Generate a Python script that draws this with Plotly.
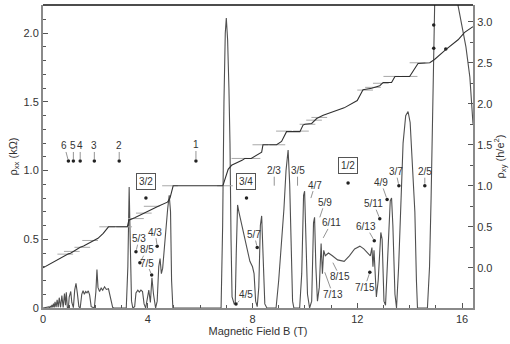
import plotly.graph_objects as go

# ---------------- data ----------------
# longitudinal resistivity rho_xx (kOhm) vs magnetic field B (T)
B_xx = [0.00, 0.15, 0.22, 0.25, 0.28, 0.31, 0.34, 0.37, 0.40, 0.43,
        0.46, 0.50, 0.54, 0.58, 0.62, 0.67, 0.72, 0.77, 0.82, 0.86,
        0.89, 0.93, 0.97, 1.00, 1.06, 1.10, 1.16, 1.21, 1.26, 1.31,
        1.37, 1.42, 1.48, 1.53, 1.58, 1.63, 1.68, 1.73, 1.78, 1.84,
        1.96, 2.02, 2.06, 2.10, 2.16, 2.22, 2.28, 2.35, 2.42, 2.50,
        2.58, 2.66, 2.70, 3.18, 3.24, 3.29, 3.33, 3.38, 3.43, 3.50,
        3.55, 3.62, 3.68, 3.74, 3.80, 3.86, 3.92, 3.98, 4.04, 4.10,
        4.16, 4.22, 4.30, 4.36, 4.42, 4.47, 4.52, 4.57, 4.63, 4.70,
        4.76, 4.82, 4.87, 4.91, 4.96, 6.80, 6.86, 6.91, 6.96, 7.00,
        7.05, 7.10, 7.14, 7.18, 7.22, 7.30, 7.34, 7.38, 7.43, 7.48,
        7.55, 7.62, 7.70, 7.80, 7.90, 8.00, 8.06, 8.12, 8.18, 8.24,
        8.30, 8.35, 8.40, 8.47, 8.55, 8.90, 9.00, 9.10, 9.20, 9.28,
        9.36, 9.42, 9.48, 9.53, 9.58, 9.80, 9.88, 9.95, 9.99, 10.04,
        10.10, 10.18, 10.26, 10.33, 10.37, 10.42, 10.48, 10.55, 10.62, 10.67,
        10.72, 10.78, 10.90, 11.05, 11.25, 11.50, 11.70, 11.90, 12.10, 12.25,
        12.40, 12.50, 12.56, 12.60, 12.64, 12.68, 12.73, 12.80, 12.90, 12.95,
        13.02, 13.08, 13.16, 13.26, 13.31, 13.36, 13.44, 13.50, 13.58, 13.66,
        13.75, 13.85, 13.94, 14.02, 14.10, 14.20, 14.26, 14.30, 14.68, 14.76,
        14.82, 14.87, 14.92, 14.96, 15.40, 15.85, 16.15, 16.30, 16.42]
rho_xx = [0.000, 0.002, 0.008, 0.002, 0.014, 0.003, 0.022, 0.004, 0.032, 0.005,
          0.045, 0.006, 0.060, 0.006, 0.075, 0.005, 0.090, 0.004, 0.105, 0.020,
          0.115, 0.004, 0.000, 0.080, 0.120, 0.040, 0.003, 0.130, 0.180, 0.110,
          0.010, 0.000, 0.100, 0.125, 0.100, 0.120, 0.110, 0.125, 0.095, 0.010,
          0.000, 0.120, 0.280, 0.150, 0.120, 0.145, 0.130, 0.155, 0.135, 0.140,
          0.080, 0.005, 0.000, 0.000, 0.300, 0.880, 0.500, 0.050, 0.000, 0.010,
          0.110, 0.130, 0.115, 0.130, 0.120, 0.030, 0.000, 0.080, 0.130, 0.040,
          0.220, 0.100, 0.000, 0.050, 0.300, 0.360, 0.250, 0.290, 0.450, 0.600,
          0.720, 0.820, 0.700, 0.200, 0.000, 0.000, 0.600, 1.500, 2.000, 2.110,
          1.950, 1.600, 1.200, 0.500, 0.080, 0.030, 0.030, 0.400, 0.750, 0.700,
          0.640, 0.580, 0.500, 0.420, 0.340, 0.300, 0.250, 0.050, 0.010, 0.150,
          0.600, 0.670, 0.350, 0.030, 0.000, 0.000, 0.200, 0.450, 0.720, 1.000,
          1.150, 0.900, 0.400, 0.050, 0.000, 0.000, 0.250, 0.820, 0.850, 0.500,
          0.100, 0.000, 0.050, 0.620, 0.660, 0.300, 0.050, 0.150, 0.470, 0.250,
          0.420, 0.380, 0.400, 0.380, 0.350, 0.340, 0.380, 0.430, 0.450, 0.430,
          0.400, 0.380, 0.440, 0.300, 0.420, 0.250, 0.080, 0.200, 0.550, 0.500,
          0.050, 0.020, 0.400, 0.780, 0.800, 0.600, 0.100, 0.000, 0.300, 0.800,
          1.200, 1.400, 1.430, 1.350, 1.050, 0.700, 0.200, 0.000, 0.000, 0.300,
          0.800, 1.300, 1.900, 2.250, 3.500, 2.200, 1.900, 1.680, 1.340]

# Hall resistivity rho_xy (h/e^2) vs B (T)
B_xy = [0.00, 0.50, 0.97, 1.05, 1.16, 1.25, 1.42, 1.55, 1.75, 1.96,
        2.10, 2.30, 2.50, 3.22, 3.28, 3.50, 3.80, 4.10, 4.40, 4.75,
        4.85, 4.97, 6.87, 7.07, 7.20, 7.60, 7.70, 7.95, 8.10, 8.35,
        8.40, 8.92, 9.11, 9.30, 9.81, 9.93, 10.00, 10.26, 10.45, 10.70,
        11.50, 12.00, 12.22, 12.55, 12.86, 12.99, 13.31, 13.44, 14.00, 14.32,
        14.77, 14.95, 15.38, 15.85, 16.10, 16.42]
rho_xy = [0.000, 0.090, 0.170, 0.178, 0.200, 0.215, 0.250, 0.265, 0.300, 0.333,
          0.360, 0.420, 0.500, 0.500, 0.580, 0.610, 0.660, 0.700, 0.750, 0.800,
          0.850, 1.000, 1.000, 1.200, 1.250, 1.310, 1.333, 1.333, 1.360, 1.410,
          1.500, 1.500, 1.540, 1.660, 1.660, 1.740, 1.750, 1.760, 1.820, 1.860,
          1.950, 2.040, 2.170, 2.190, 2.220, 2.260, 2.260, 2.333, 2.333, 2.490,
          2.500, 2.540, 2.660, 2.780, 2.870, 2.940]

# reference plateau values (h/e^2) and the field where each short marker sits
plateau_values = [1/6, 1/5, 1/4, 1/3, 1/2, 1/2, 3/5, 2/3, 3/4, 1, 1,
                  4/3, 4/3, 3/2, 3/2, 5/3, 5/3, 7/4, 9/5, 11/6,
                  13/6, 11/5, 9/4, 7/3, 7/3, 5/2]
plateau_B = [0.85, 1.10, 1.50, 1.80, 2.45, 3.10, 3.55, 3.85, 4.15, 4.85, 6.95,
             7.50, 8.00, 8.30, 8.95, 9.20, 9.85, 10.10, 10.35, 10.55,
             12.30, 12.60, 12.90, 13.30, 14.00, 14.30]

# filling-factor labels with a marked point (B, rho_xx)
dot_labels = ["6", "5", "4", "3", "2", "1", "5/3", "4/3", "8/5", "7/5",
              "5/7", "4/5", "4/9", "3/7", "2/5", "5/11", "6/13", "7/15"]
dot_B = [0.97, 1.16, 1.42, 1.96, 2.91, 5.84, 3.55, 4.36, 3.70, 4.15,
         8.18, 7.37, 13.14, 13.59, 14.58, 12.86, 12.65, 12.48]
dot_rho = [1.07, 1.07, 1.07, 1.07, 1.07, 1.07, 0.41, 0.45, 0.33, 0.24,
           0.44, 0.03, 0.79, 0.89, 0.89, 0.65, 0.49, 0.26]

# labels with only a short pointer line (B, rho_xx of pointer end)
tick_labels = ["2/3", "3/5", "4/7", "5/9", "6/11", "8/15", "7/13"]
tick_B = [8.83, 9.72, 10.23, 10.57, 10.70, 11.07, 10.76]
tick_rho = [0.89, 0.89, 0.80, 0.66, 0.51, 0.33, 0.26]

# boxed labels (even-denominator / half filling) with a dot below
box_labels = ["3/2", "3/4", "1/2"]
box_B = [3.93, 7.77, 11.65]
box_rho = [0.80, 0.80, 0.91]

# extra marked points on the high-field traces (B, rho_xx axis units)
extra_B = [14.92, 14.92, 15.38]
extra_rho = [2.06, 1.89, 1.885]

# ---------------- figure ----------------
TXT = "#333333"
FONT = "Liberation Sans, Arial, sans-serif"

fig = go.Figure()

fig.add_trace(go.Scatter(x=B_xx, y=rho_xx, mode="lines", yaxis="y",
                         line=dict(color="#505050", width=1.1), hoverinfo="skip",
                         showlegend=False))

# plateau markers
HW = 0.3
px, py = [], []
for v, b in zip(plateau_values, plateau_B):
    px += [b - HW, b + HW, None]
    py += [v, v, None]
fig.add_trace(go.Scatter(x=px, y=py, mode="lines", yaxis="y2",
                         line=dict(color="#a8a8a8", width=1), hoverinfo="skip",
                         showlegend=False))

fig.add_trace(go.Scatter(x=B_xy, y=rho_xy, mode="lines", yaxis="y2",
                         line=dict(color="#303030", width=1.1), hoverinfo="skip",
                         showlegend=False))

fig.add_trace(go.Scatter(x=dot_B + box_B + extra_B, y=dot_rho + box_rho + extra_rho,
                         mode="markers", yaxis="y",
                         marker=dict(color="#222222", size=3.5), hoverinfo="skip",
                         showlegend=False))

annotations = []
dot_offsets = [(-4, -15), (0, -15), (0, -15), (0, -15), (0, -15), (0, -16),
               (3, -13), (-2, -14), (7, -13), (-5, -12), (-3, -13), (10, -9),
               (-6, -17), (-3, -14), (0, -14), (-6, -15), (-8, -14), (-5, 15)]
for t, b, r, (dx, dy) in zip(dot_labels, dot_B, dot_rho, dot_offsets):
    annotations.append(dict(x=b, y=r, xref="x", yref="y", text=t,
                            showarrow=True, arrowhead=0, arrowwidth=0.7,
                            arrowcolor="#666666", ax=dx, ay=dy, standoff=2,
                            font=dict(size=10, color=TXT, family=FONT),
                            borderpad=0))
tick_offsets = [(0, -15), (0, -15), (4, -13), (5, -15), (8, -15), (7, 14), (8, 22)]
for t, b, r, (dx, dy) in zip(tick_labels, tick_B, tick_rho, tick_offsets):
    annotations.append(dict(x=b, y=r, xref="x", yref="y", text=t,
                            showarrow=True, arrowhead=0, arrowwidth=0.7,
                            arrowcolor="#666666", ax=dx, ay=dy, standoff=0,
                            font=dict(size=10, color=TXT, family=FONT),
                            borderpad=0))
for t, b, r in zip(box_labels, box_B, box_rho):
    annotations.append(dict(x=b, y=r, xref="x", yref="y", text=t,
                            showarrow=False, yshift=17,
                            bordercolor="#555555", borderwidth=1, borderpad=2,
                            bgcolor="white",
                            font=dict(size=10, color=TXT, family=FONT)))

fig.update_layout(
    width=510, height=344,
    margin=dict(l=43, r=37, t=5, b=36, autoexpand=False),
    paper_bgcolor="white", plot_bgcolor="white",
    font=dict(family=FONT, size=11, color=TXT),
    showlegend=False,
    annotations=annotations,
    shapes=[dict(type="line", xref="paper", yref="paper", x0=0, x1=1, y0=1, y1=1,
                 line=dict(color="#111111", width=1.5))],
    xaxis=dict(range=[0, 16.42], tickvals=[0, 4, 8, 12, 16], automargin=False,
               ticks="inside", ticklen=5, tickwidth=1, tickcolor="#555555",
               minor=dict(dtick=1, ticks="inside", ticklen=3, tickcolor="#555555"),
               showline=True, linecolor="#8a8a8a", linewidth=2,
               showgrid=False, zeroline=False,
               tickfont=dict(size=11, color=TXT),
               title=dict(text="Magnetic Field B (T)", font=dict(size=11, color=TXT),
                          standoff=2)),
    yaxis=dict(range=[0, 2.205], tickvals=[0, 0.5, 1.0, 1.5, 2.0], automargin=False,
               ticktext=["0", "0.5", "1.0", "1.5", "2.0"],
               ticks="inside", ticklen=5, tickwidth=1, tickcolor="#555555",
               minor=dict(dtick=0.1, ticks="inside", ticklen=3, tickcolor="#555555"),
               showline=True, linecolor="#8a8a8a", linewidth=2,
               showgrid=False, zeroline=False,
               tickfont=dict(size=11, color=TXT),
               title=dict(text="ρ<sub>xx</sub> (kΩ)", font=dict(size=11, color=TXT),
                          standoff=4)),
    yaxis2=dict(range=[-0.49, 3.204], overlaying="y", side="right", automargin=False,
                tickvals=[0, 0.5, 1.0, 1.5, 2.0, 2.5, 3.0],
                ticktext=["0.0", "0.5", "1.0", "1.5", "2.0", "2.5", "3.0"],
                ticks="inside", ticklen=5, tickwidth=1, tickcolor="#555555",
                minor=dict(dtick=0.25, ticks="inside", ticklen=3, tickcolor="#555555"),
                showline=True, linecolor="#8a8a8a", linewidth=2,
                showgrid=False, zeroline=False,
                tickfont=dict(size=11, color=TXT),
                title=dict(text="ρ<sub>xy</sub> (h/e<sup>2</sup>)",
                           font=dict(size=11, color=TXT), standoff=3)),
)

fig.write_html("out.html", config={"displayModeBar": False},
               post_script="document.body.style.margin='0';document.body.style.overflow='hidden';")
